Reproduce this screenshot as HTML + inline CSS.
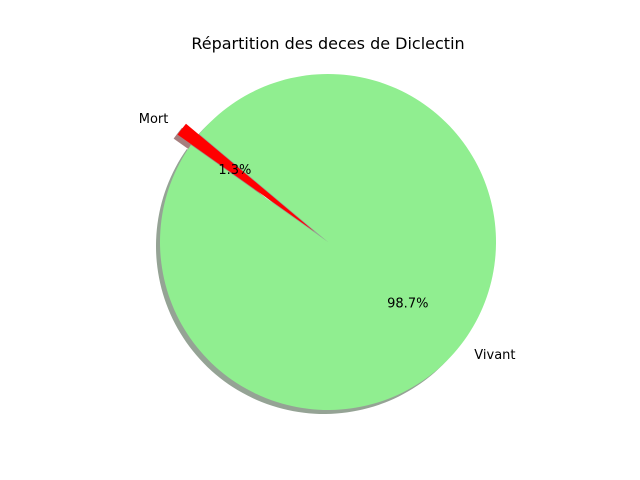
<!DOCTYPE html>
<html><head><meta charset="utf-8"><style>
body{margin:0;background:#fff;}
svg{display:block;font-family:"DejaVu Sans","Liberation Sans",sans-serif;}
</style></head><body>
<svg id="chart" width="640" height="480" viewBox="0 0 640 480">
<rect width="640" height="480" fill="#fff"/>
<text x="328" y="49" text-anchor="middle" font-size="16" fill="#000">Répartition des deces de Diclectin</text>
<g id="shadows"></g>
<g id="wedges"></g>
<g id="labels"></g>
</svg>
<script>
const categories = ["Mort", "Vivant"];
const values = [1.3, 98.7];
const colors = ["#ff0000", "#90ee90"];
const shadowColors = ["#4d0000", "#2b472b"];
const explode = [0.1, 0];
const startAngle = 140;
const cx = 328, cy = 242, R = 168;
const NS = "http://www.w3.org/2000/svg";
const total = values.reduce((a, b) => a + b, 0);
const sh = document.getElementById("shadows");
const wg = document.getElementById("wedges");
const lb = document.getElementById("labels");
function pt(x, y, r, deg) { const a = deg * Math.PI / 180; return [x + r * Math.cos(a), y - r * Math.sin(a)]; }
function wedgePath(x, y, a1, a2) {
  const p1 = pt(x, y, R, a1), p2 = pt(x, y, R, a2);
  const large = (a2 - a1) > 180 ? 1 : 0;
  return `M${x},${y} L${p1[0]},${p1[1]} A${R},${R} 0 ${large} 0 ${p2[0]},${p2[1]} Z`;
}
let ang = startAngle;
values.forEach((v, i) => {
  const span = v / total * 360;
  const a1 = ang, a2 = ang + span, mid = (a1 + a2) / 2;
  const [ox, oy] = pt(cx, cy, explode[i] * R, mid);
  const s = document.createElementNS(NS, "path");
  s.setAttribute("d", wedgePath(ox - 4, oy + 4, a1, a2));
  s.setAttribute("fill", shadowColors[i]);
  s.setAttribute("fill-opacity", "0.5");
  
  
  sh.appendChild(s);
  const w = document.createElementNS(NS, "path");
  w.setAttribute("d", wedgePath(ox, oy, a1, a2));
  w.setAttribute("fill", colors[i]);
  
  
  wg.appendChild(w);
  const [lx, ly] = pt(ox, oy, R * 1.1, mid);
  const t = document.createElementNS(NS, "text");
  t.setAttribute("x", lx); t.setAttribute("y", ly + 4);
  t.setAttribute("font-size", "13");
  t.setAttribute("text-anchor", Math.cos(mid * Math.PI / 180) < 0 ? "end" : "start");
  t.textContent = categories[i];
  
  
  lb.appendChild(t);
  const [px, py] = pt(ox, oy, R * 0.6, mid);
  const p = document.createElementNS(NS, "text");
  p.setAttribute("x", px); p.setAttribute("y", py + 4);
  p.setAttribute("font-size", "13");
  p.setAttribute("text-anchor", "middle");
  p.textContent = (v / total * 100).toFixed(1) + "%";
  
  
  lb.appendChild(p);
  ang = a2;
});
</script>
</body></html>
